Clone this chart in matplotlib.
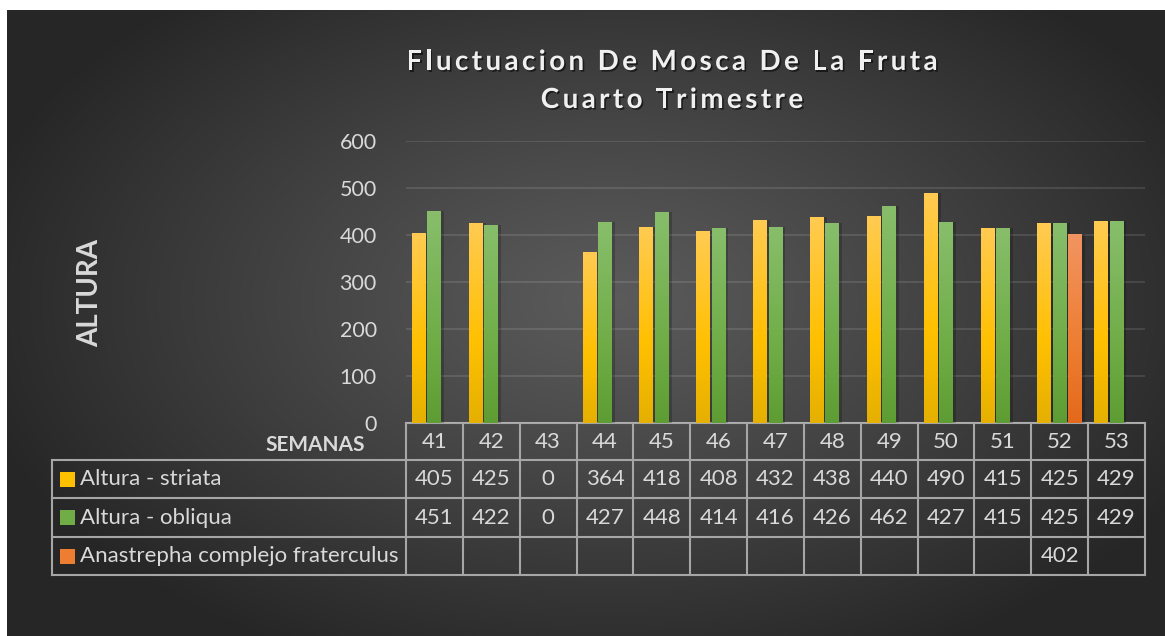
#!/usr/bin/env python3
"""Fluctuacion de mosca de la fruta, cuarto trimestre: grouped bars with a data table below."""

import numpy as np
import matplotlib
matplotlib.use("Agg")
import matplotlib.pyplot as plt
import matplotlib.patheffects as pe
from matplotlib.colors import LinearSegmentedColormap
from matplotlib.font_manager import FontProperties
from matplotlib.patches import Rectangle

plt.rcParams["font.family"] = ["Lato", "DejaVu Sans"]

weeks = ["41", "42", "43", "44", "45", "46", "47", "48", "49", "50", "51", "52", "53"]
series_names = ["Altura - striata", "Altura - obliqua", "Anastrepha complejo fraterculus"]
striata = [405, 425, 0, 364, 418, 408, 432, 438, 440, 490, 415, 425, 429]
obliqua = [451, 422, 0, 427, 448, 414, 416, 426, 462, 427, 415, 425, 429]
fraterculus = [None, None, None, None, None, None, None, None, None, None, None, 402, None]
y_ticks = [0, 100, 200, 300, 400, 500, 600]
title_lines = ["Fluctuacion De Mosca De La Fruta", "Cuarto Trimestre"]

# top / middle / bottom shades of each series gradient
GRADS = [
    ["#ffcb52", "#ffc000", "#e5b000"],
    ["#88be6b", "#70ad47", "#5e9d33"],
    ["#f29461", "#ed7d31", "#e3691c"],
]
TEXT = "#d9d9d9"
W, H = 1165, 636

fig = plt.figure(figsize=(W / 100, H / 100), dpi=100, facecolor="white")
renderer = fig.canvas.get_renderer()

# background with radial gradient, in pixel coordinates
bg = fig.add_axes([0, 0, 1, 1])
yy, xx = np.mgrid[10:H, 7:W]
d = np.sqrt(((xx - 610) / 660.0) ** 2 + ((yy - 300) / 400.0) ** 2)
d = np.clip(d, 0, 1) ** 1.1
shade = (0x5b - d * (0x5b - 0x26)) / 255.0
img = np.dstack([shade, shade, shade])
bg.imshow(img, extent=(7, W, H, 10), aspect="auto", zorder=0, interpolation="bilinear")
bg.set_xlim(0, W)
bg.set_ylim(H, 0)
bg.axis("off")


def spaced_text(xc, y, s, spacing, size, **kw):
    """Centred text with extra letter spacing (pixels), drawn char by char."""
    prop = FontProperties(family=plt.rcParams["font.family"], size=size, weight="bold")
    widths = [renderer.get_text_width_height_descent(s[:i], prop, ismath=False)[0] if i else 0.0
              for i in range(len(s) + 1)]
    total = widths[-1] + spacing * (len(s) - 1)
    x0 = xc - total / 2
    for i, ch in enumerate(s):
        if ch == " ":
            continue
        bg.text(x0 + widths[i] + spacing * i, y, ch, ha="left", va="center",
                fontproperties=prop, **kw)


# bar area
ax = fig.add_axes([406 / W, 1 - 423 / H, (1145 - 406) / W, (423 - 141) / H])
ax.patch.set_alpha(0)
n = len(weeks)
x = np.arange(n)
width = 0.246
step = 0.27
all_series = [striata, obliqua, fraterculus]
for i, (vals, grad) in enumerate(zip(all_series, GRADS)):
    xs = [xi + (i - 1) * step for xi, v in zip(x, vals) if v]
    hs = [v for v in vals if v]
    if not hs:
        continue
    # soft shadow
    ax.bar(np.array(xs) + 0.05, hs, width=width, color="black", alpha=0.2, zorder=2)
    bars = ax.bar(xs, hs, width=width, color=grad[1], zorder=3)
    cmap = LinearSegmentedColormap.from_list(f"g{i}", [grad[2], grad[1], grad[0]])
    for b in bars:
        bx, bw, bh = b.get_x(), b.get_width(), b.get_height()
        g = np.linspace(0, 1, 256).reshape(-1, 1)
        g = np.where(g < 0.4, g / 0.4 * 0.5, 0.5 + (g - 0.4) / 0.6 * 0.5)
        im = ax.imshow(g, extent=(bx, bx + bw, 0, bh), origin="lower", cmap=cmap,
                       aspect="auto", zorder=4, vmin=0, vmax=1)
        im.set_clip_path(b)

ax.set_xlim(-0.5, n - 0.5)
ax.set_ylim(0, 600)
ax.set_yticks(y_ticks)
ax.set_xticks([])
ax.tick_params(axis="y", length=0, pad=21, labelsize=15.5, labelcolor=TEXT)
ax.grid(axis="y", color="#ffffff", alpha=0.13, linewidth=1.2)
ax.set_axisbelow(True)
for sp in ax.spines.values():
    sp.set_visible(False)

# titles
shadow = [pe.withSimplePatchShadow(offset=(1.2, -1.2), shadow_rgbFace="black", alpha=0.55)]
spaced_text(672, 62, title_lines[0], 3.4, 20, color="#f0f0f0", zorder=5, path_effects=shadow)
spaced_text(672, 100, title_lines[1], 3.4, 20, color="#f0f0f0", zorder=5, path_effects=shadow)
bg.text(90, 293, "ALTURA", rotation=90, ha="center", va="center",
        fontsize=20, fontweight="bold", color=TEXT, zorder=5)

# data table
col_edges = np.linspace(406, 1145, n + 1)
col_mid = (col_edges[:-1] + col_edges[1:]) / 2
row_edges = [423, 460, 498, 537, 575]
leg_left = 52
line_kw = dict(color="#a6a6a6", linewidth=1.5, zorder=6)
bg.plot([406, 1145], [row_edges[0]] * 2, **line_kw)
for ry in row_edges[1:]:
    bg.plot([leg_left, 1145], [ry, ry], **line_kw)
for cx in col_edges:
    bg.plot([cx, cx], [row_edges[0], row_edges[-1]], **line_kw)
bg.plot([leg_left, leg_left], [row_edges[1], row_edges[-1]], **line_kw)

hdr_y = (row_edges[0] + row_edges[1]) / 2
for cx, wk in zip(col_mid, weeks):
    bg.text(cx, hdr_y, wk, ha="center", va="center", fontsize=16, color=TEXT, zorder=7)
bg.text(365, 445, "SEMANAS", ha="right", va="center", fontsize=15,
        fontweight="bold", color=TEXT, zorder=7)

for r, (name, vals, grad) in enumerate(zip(series_names, all_series, GRADS)):
    cy = (row_edges[r + 1] + row_edges[r + 2]) / 2
    bg.add_patch(Rectangle((60, cy - 7.5), 15, 15, facecolor=grad[1], edgecolor="none", zorder=7))
    bg.text(80, cy, name, ha="left", va="center", fontsize=16, color=TEXT, zorder=7)
    for cx, v in zip(col_mid, vals):
        if v is None:
            continue
        bg.text(cx, cy, str(v), ha="center", va="center", fontsize=16, color=TEXT, zorder=7)

fig.savefig("out.png", dpi=100, facecolor="white")
